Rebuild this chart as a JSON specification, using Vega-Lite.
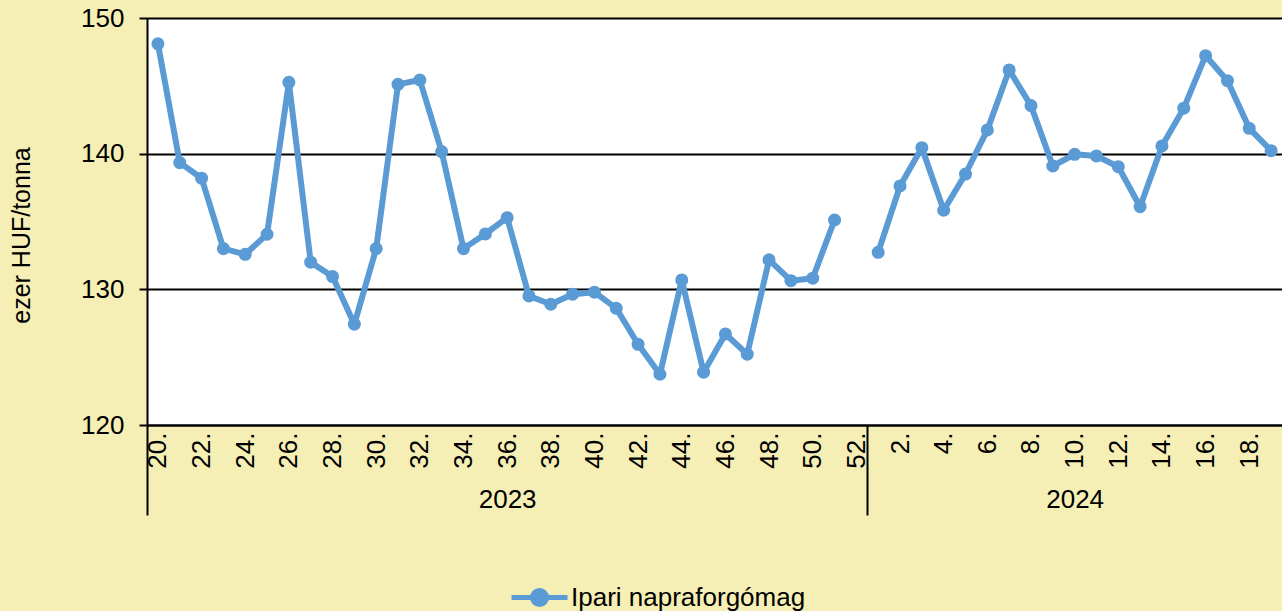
{
  "$schema": "https://vega.github.io/schema/vega-lite/v6.json",
  "width": 1135,
  "height": 407,
  "autosize": "none",
  "padding": {"left": 147, "top": 18, "right": 0, "bottom": 186},
  "background": "#F5EFB5",
  "config": {
    "view": {"fill": "white", "stroke": null},
    "font": "Liberation Sans",
    "axis": {"labelColor": "black", "titleColor": "black", "labelFont": "Liberation Sans", "titleFont": "Liberation Sans"}
  },
  "data": {
    "values": [
      {"key": "2023-20", "year": "2023", "price": 148.1, "series": "Ipari napraforgómag"},
      {"key": "2023-21", "year": "2023", "price": 139.34, "series": "Ipari napraforgómag"},
      {"key": "2023-22", "year": "2023", "price": 138.19, "series": "Ipari napraforgómag"},
      {"key": "2023-23", "year": "2023", "price": 133.0, "series": "Ipari napraforgómag"},
      {"key": "2023-24", "year": "2023", "price": 132.58, "series": "Ipari napraforgómag"},
      {"key": "2023-25", "year": "2023", "price": 134.06, "series": "Ipari napraforgómag"},
      {"key": "2023-26", "year": "2023", "price": 145.26, "series": "Ipari napraforgómag"},
      {"key": "2023-27", "year": "2023", "price": 132.0, "series": "Ipari napraforgómag"},
      {"key": "2023-28", "year": "2023", "price": 130.94, "series": "Ipari napraforgómag"},
      {"key": "2023-29", "year": "2023", "price": 127.43, "series": "Ipari napraforgómag"},
      {"key": "2023-30", "year": "2023", "price": 133.0, "series": "Ipari napraforgómag"},
      {"key": "2023-31", "year": "2023", "price": 145.11, "series": "Ipari napraforgómag"},
      {"key": "2023-32", "year": "2023", "price": 145.43, "series": "Ipari napraforgómag"},
      {"key": "2023-33", "year": "2023", "price": 140.15, "series": "Ipari napraforgómag"},
      {"key": "2023-34", "year": "2023", "price": 133.0, "series": "Ipari napraforgómag"},
      {"key": "2023-35", "year": "2023", "price": 134.08, "series": "Ipari napraforgómag"},
      {"key": "2023-36", "year": "2023", "price": 135.28, "series": "Ipari napraforgómag"},
      {"key": "2023-37", "year": "2023", "price": 129.51, "series": "Ipari napraforgómag"},
      {"key": "2023-38", "year": "2023", "price": 128.9, "series": "Ipari napraforgómag"},
      {"key": "2023-39", "year": "2023", "price": 129.64, "series": "Ipari napraforgómag"},
      {"key": "2023-40", "year": "2023", "price": 129.79, "series": "Ipari napraforgómag"},
      {"key": "2023-41", "year": "2023", "price": 128.6, "series": "Ipari napraforgómag"},
      {"key": "2023-42", "year": "2023", "price": 125.95, "series": "Ipari napraforgómag"},
      {"key": "2023-43", "year": "2023", "price": 123.74, "series": "Ipari napraforgómag"},
      {"key": "2023-44", "year": "2023", "price": 130.69, "series": "Ipari napraforgómag"},
      {"key": "2023-45", "year": "2023", "price": 123.89, "series": "Ipari napraforgómag"},
      {"key": "2023-46", "year": "2023", "price": 126.71, "series": "Ipari napraforgómag"},
      {"key": "2023-47", "year": "2023", "price": 125.22, "series": "Ipari napraforgómag"},
      {"key": "2023-48", "year": "2023", "price": 132.17, "series": "Ipari napraforgómag"},
      {"key": "2023-49", "year": "2023", "price": 130.64, "series": "Ipari napraforgómag"},
      {"key": "2023-50", "year": "2023", "price": 130.82, "series": "Ipari napraforgómag"},
      {"key": "2023-51", "year": "2023", "price": 135.11, "series": "Ipari napraforgómag"},
      {"key": "2024-01", "year": "2024", "price": 132.73, "series": "Ipari napraforgómag"},
      {"key": "2024-02", "year": "2024", "price": 137.62, "series": "Ipari napraforgómag"},
      {"key": "2024-03", "year": "2024", "price": 140.44, "series": "Ipari napraforgómag"},
      {"key": "2024-04", "year": "2024", "price": 135.83, "series": "Ipari napraforgómag"},
      {"key": "2024-05", "year": "2024", "price": 138.5, "series": "Ipari napraforgómag"},
      {"key": "2024-06", "year": "2024", "price": 141.75, "series": "Ipari napraforgómag"},
      {"key": "2024-07", "year": "2024", "price": 146.17, "series": "Ipari napraforgómag"},
      {"key": "2024-08", "year": "2024", "price": 143.54, "series": "Ipari napraforgómag"},
      {"key": "2024-09", "year": "2024", "price": 139.09, "series": "Ipari napraforgómag"},
      {"key": "2024-10", "year": "2024", "price": 139.95, "series": "Ipari napraforgómag"},
      {"key": "2024-11", "year": "2024", "price": 139.83, "series": "Ipari napraforgómag"},
      {"key": "2024-12", "year": "2024", "price": 139.04, "series": "Ipari napraforgómag"},
      {"key": "2024-13", "year": "2024", "price": 136.09, "series": "Ipari napraforgómag"},
      {"key": "2024-14", "year": "2024", "price": 140.57, "series": "Ipari napraforgómag"},
      {"key": "2024-15", "year": "2024", "price": 143.35, "series": "Ipari napraforgómag"},
      {"key": "2024-16", "year": "2024", "price": 147.22, "series": "Ipari napraforgómag"},
      {"key": "2024-17", "year": "2024", "price": 145.38, "series": "Ipari napraforgómag"},
      {"key": "2024-18", "year": "2024", "price": 141.87, "series": "Ipari napraforgómag"},
      {"key": "2024-19", "year": "2024", "price": 140.22, "series": "Ipari napraforgómag"}
    ]
  },
  "resolve": {"scale": {"x": "shared", "y": "shared"}, "axis": {"x": "independent"}},
  "layer": [
    {
      "mark": {"type": "line", "strokeWidth": 6, "strokeJoin": "round", "strokeCap": "round"},
      "encoding": {
        "x": {
          "field": "key", "type": "ordinal",
          "scale": {"type": "point", "domain": ["2023-20","2023-21","2023-22","2023-23","2023-24","2023-25","2023-26","2023-27","2023-28","2023-29","2023-30","2023-31","2023-32","2023-33","2023-34","2023-35","2023-36","2023-37","2023-38","2023-39","2023-40","2023-41","2023-42","2023-43","2023-44","2023-45","2023-46","2023-47","2023-48","2023-49","2023-50","2023-51","2023-52","2024-01","2024-02","2024-03","2024-04","2024-05","2024-06","2024-07","2024-08","2024-09","2024-10","2024-11","2024-12","2024-13","2024-14","2024-15","2024-16","2024-17","2024-18","2024-19"]},
          "axis": {"orient": "bottom", "title": null, "labelExpr": "toNumber(slice(datum.value, 5)) % 2 == 0 ? toNumber(slice(datum.value, 5)) + '.' : ''", "labelAngle": -90, "labelAlign": "right", "labelBaseline": "middle", "labelFontSize": 26, "labelPadding": 7, "labelOverlap": false, "ticks": false, "tickSize": 0, "grid": false, "domain": true, "domainColor": "black", "domainWidth": 2}
        },
        "y": {
          "field": "price", "type": "quantitative",
          "scale": {"domain": [120, 150], "zero": false, "nice": false},
          "axis": {"values": [120, 130, 140, 150], "title": "ezer HUF/tonna", "titleFontSize": 25, "titleFontWeight": "normal", "titleAngle": -90, "titleBaseline": "middle", "titleAlign": "center", "titleX": -126, "titleY": 217, "labelFontSize": 26, "labelPadding": 15, "labelBaseline": "middle", "grid": true, "gridColor": "black", "gridWidth": 2, "gridOpacity": 1, "domainColor": "black", "domainWidth": 2, "tickColor": "black", "tickWidth": 2, "tickSize": 8}
        },
        "color": {
          "field": "series", "type": "nominal",
          "scale": {"domain": ["Ipari napraforgómag"], "range": ["#5B9BD5"]},
          "legend": {
            "title": null, "orient": "none", "legendX": 362, "legendY": 549,
            "symbolType": "M-1,0H1M0.25,0A0.25,0.25,0,1,1,-0.25,0A0.25,0.25,0,1,1,0.25,0Z",
            "symbolSize": 3136, "symbolStrokeWidth": 5, "labelFontSize": 26, "labelOffset": 1, "labelLimit": 500, "labelColor": "black",
            "encode": {"symbols": {"update": {"fill": {"value": "#5B9BD5"}, "stroke": {"value": "#5B9BD5"}, "strokeWidth": {"value": 5}, "opacity": {"value": 1}}}}
          }
        },
        "detail": {"field": "year", "type": "nominal"}
      }
    },
    {
      "mark": {"type": "circle", "size": 170, "opacity": 1},
      "encoding": {
        "x": {"field": "key", "type": "ordinal", "axis": null},
        "y": {"field": "price", "type": "quantitative"},
        "color": {"field": "series", "type": "nominal"}
      }
    },
    {
      "mark": {"type": "point", "opacity": 0},
      "encoding": {
        "x": {
          "field": "key", "type": "ordinal",
          "axis": {"orient": "bottom", "values": ["2023-20", "2024-01"], "title": null, "labels": false, "domain": false, "grid": false, "ticks": true, "tickSize": 90, "tickWidth": 2, "tickColor": "black", "tickOffset": -10.91}
        }
      }
    },
    {
      "mark": {"type": "point", "opacity": 0},
      "encoding": {
        "x": {
          "field": "key", "type": "ordinal",
          "axis": {"orient": "bottom", "values": ["2023-36", "2024-10"], "title": null, "labelExpr": "slice(datum.value, 0, 4)", "labelAngle": 0, "labelAlign": "center", "labelBaseline": "top", "labelFontSize": 26, "labelPadding": 61, "domain": false, "grid": false, "ticks": false, "tickSize": 0}
        }
      }
    }
  ]
}
